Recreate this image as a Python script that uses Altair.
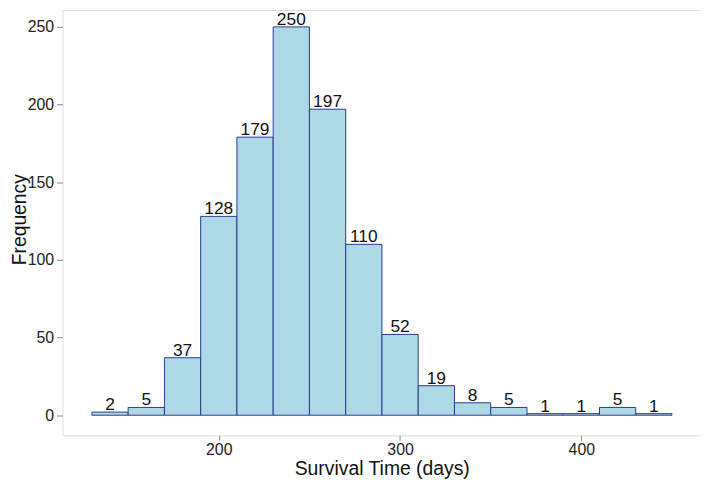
import altair as alt
import pandas as pd

bin_start = [130, 150, 170, 190, 210, 230, 250, 270, 290, 310, 330, 350, 370, 390, 410, 430]
bin_width = 20
counts = [2, 5, 37, 128, 179, 250, 197, 110, 52, 19, 8, 5, 1, 1, 5, 1]
x_ticks = [200, 300, 400]
y_ticks = [0, 50, 100, 150, 200, 250]

df = pd.DataFrame({
    "start": bin_start,
    "end": [s + bin_width for s in bin_start],
    "count": counts,
})
df["mid"] = df["start"] + bin_width / 2

font = "Liberation Sans"

x_enc = alt.X("start:Q",
              scale=alt.Scale(domain=[113.8, 466], nice=False, zero=False),
              axis=alt.Axis(values=x_ticks, title="Survival Time (days)", grid=False,
                            domain=False, tickColor="#888", tickSize=5,
                            labelFontSize=16, labelColor="#222", labelFont=font,
                            labelPadding=1, titleFontSize=19.5, titleFont=font,
                            titleFontWeight="normal", titleColor="#111",
                            titleBaseline="alphabetic", titleY=40))
y_scale = alt.Scale(domain=[-12.96, 260.85], nice=False, zero=False)
y_enc = alt.Y("count:Q", scale=y_scale,
              axis=alt.Axis(values=y_ticks, title="Frequency", grid=False,
                            domain=False, tickColor="#888", tickSize=6,
                            labelFontSize=16, labelColor="#222", labelFont=font,
                            labelPadding=3, titleFontSize=19.5, titleFont=font,
                            titleFontWeight="normal", titleColor="#111",
                            titleX=-37, titleY=211, titleBaseline="alphabetic",
                            titleAngle=270))

bars = alt.Chart(df).mark_bar(fill="#ADD8E6", stroke="#2B3990", strokeWidth=1).encode(
    x=x_enc,
    x2="end:Q",
    y=y_enc,
    y2=alt.datum(0),
)

labels = alt.Chart(df).mark_text(baseline="alphabetic", dy=-2, fontSize=17.5, font=font,
                                 color="#111").encode(
    x=alt.X("mid:Q"),
    y=alt.Y("count:Q"),
    text="count:Q",
)

chart = alt.layer(bars, labels).properties(
    width=644, height=429,
    autosize=alt.AutoSizeParams(type="none"),
    padding={"left": 55, "top": 0, "right": 0, "bottom": 43},
).configure_view(stroke="#a0a0a0", strokeWidth=1).configure(background="white")

chart.save("out.html", embed_options={"renderer": "svg", "actions": False})
